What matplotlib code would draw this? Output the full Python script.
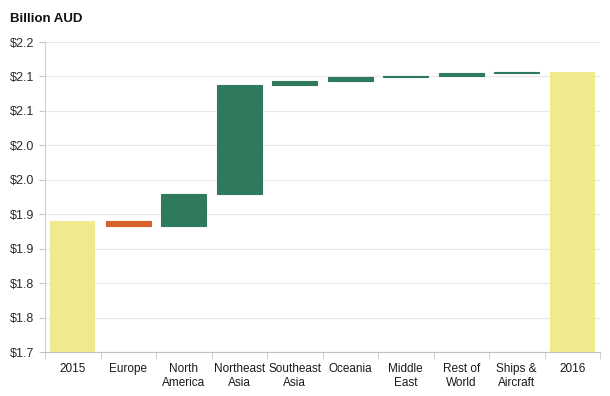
import matplotlib.pyplot as plt
import numpy as np

plt.rcParams["font.family"] = ["Liberation Sans", "DejaVu Sans"]

categories = ["2015", "Europe", "North\nAmerica", "Northeast\nAsia", "Southeast\nAsia",
              "Oceania", "Middle\nEast", "Rest of\nWorld", "Ships &\nAircraft", "2016"]
start_value = 1.890
changes = [-0.007, 0.046, 0.159, 0.006, 0.005, 0.0015, 0.004, 0.0015]
ytick_values = [1.70, 1.75, 1.80, 1.85, 1.90, 1.95, 2.00, 2.05, 2.10, 2.15]
ytick_labels = ["$1.7", "$1.8", "$1.8", "$1.9", "$1.9", "$2.0", "$2.0", "$2.1", "$2.1", "$2.2"]

YELLOW = "#f0ea8e"
GREEN = "#2f7a5d"
ORANGE = "#d9632a"
BASE = 1.70

fig = plt.figure(figsize=(6.1, 3.96), dpi=100)
ax = fig.add_axes([45 / 610, 1 - 352 / 396, 555 / 610, 310 / 396])

x = np.arange(len(categories))
w = 0.81

# totals
end_value = start_value + sum(changes)
ax.bar(x[0], start_value - BASE, bottom=BASE, width=w, color=YELLOW, zorder=3)
ax.bar(x[-1], end_value - BASE, bottom=BASE, width=w, color=YELLOW, zorder=3)

# floating changes
level = start_value
for i, d in enumerate(changes, start=1):
    col = GREEN if d >= 0 else ORANGE
    lo = min(level, level + d)
    ax.bar(x[i], abs(d), bottom=lo, width=w, color=col, edgecolor=col,
           linewidth=0.8, zorder=3)
    level += d

ax.set_xlim(-0.5, len(categories) - 0.5)
ax.set_ylim(1.70, 2.15)
ax.set_yticks(ytick_values)
ax.set_yticklabels(ytick_labels)
ax.yaxis.grid(True, color="#e8e8e8", linewidth=0.8, zorder=0)

ax.set_xticks(x)
ax.set_xticklabels(categories)
ax.set_xticks(np.arange(len(categories) + 1) - 0.5, minor=True)
ax.tick_params(axis="x", which="major", length=0, pad=8, labelsize=8.5, labelcolor="#1a1a1a")
ax.tick_params(axis="x", which="minor", length=5, color="#c8c8c8")
ax.tick_params(axis="y", length=4, color="#c8c8c8", labelsize=9, labelcolor="#2a2a2a", pad=4)

for s in ["top", "right"]:
    ax.spines[s].set_visible(False)
ax.spines["left"].set_color("#d0d0d0")
ax.spines["bottom"].set_color("#c0c0c0")

fig.text(10 / 610, 1 - 19 / 396, "Billion AUD", fontsize=9.5, fontweight="bold",
         va="center", ha="left", color="#111111")

fig.savefig("out.png", dpi=100)
